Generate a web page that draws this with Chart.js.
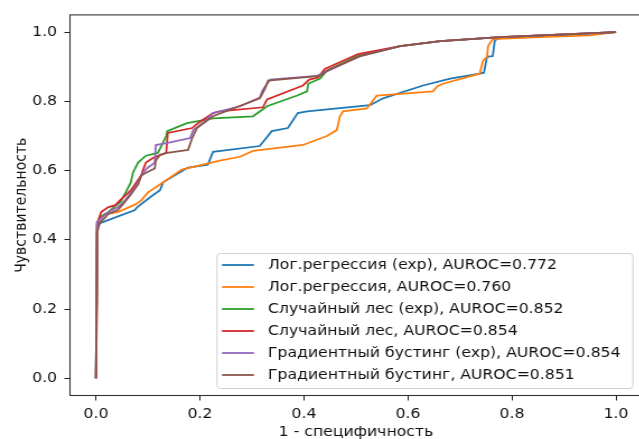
<!DOCTYPE html>
<html>
<head>
<meta charset="utf-8">
<script src="https://cdn.jsdelivr.net/npm/chart.js@4/dist/chart.umd.min.js"></script>
<style>
  html, body { margin: 0; padding: 0; background: #fff; overflow: hidden; }
  #wrap { width: 639px; height: 439px; overflow: hidden; }
  /* картинка-образец растянута по горизонтали, поэтому тянем холст так же */
  #roc { display: block; transform: scaleX(1.1198); transform-origin: 0 0; }
</style>
</head>
<body>
<div id="wrap"><canvas id="roc" width="576" height="439"></canvas></div>
<script>
// ROC-кривые, значения
const seriesNames = [
  "Лог.регрессия (exp), AUROC=0.772",
  "Лог.регрессия, AUROC=0.760",
  "Случайный лес (exp), AUROC=0.852",
  "Случайный лес, AUROC=0.854",
  "Градиентный бустинг (exp), AUROC=0.854",
  "Градиентный бустинг, AUROC=0.851"
];
const seriesColors = ["#1f77b4", "#ff7f0e", "#2ca02c", "#d62728", "#9467bd", "#8c564b"];

const logRegExpFpr = [0, 0.002, 0.004, 0.013, 0.075, 0.079, 0.104, 0.123, 0.129, 0.177, 0.215, 0.225, 0.315, 0.338, 0.369, 0.388, 0.406, 0.527, 0.552, 0.629, 0.681, 0.738, 0.746, 0.752, 0.763, 0.767, 0.777, 0.892, 1];
const logRegExpTpr = [0, 0.394, 0.446, 0.451, 0.486, 0.494, 0.523, 0.543, 0.566, 0.609, 0.617, 0.654, 0.671, 0.714, 0.723, 0.766, 0.771, 0.789, 0.809, 0.846, 0.866, 0.88, 0.883, 0.929, 0.931, 0.977, 0.983, 0.991, 1];

const logRegFpr = [0, 0.002, 0.017, 0.042, 0.077, 0.087, 0.1, 0.123, 0.165, 0.238, 0.277, 0.302, 0.398, 0.444, 0.463, 0.469, 0.475, 0.521, 0.54, 0.598, 0.648, 0.656, 0.667, 0.738, 0.744, 0.752, 0.754, 0.763, 0.854, 0.95, 1];
const logRegTpr = [0, 0.451, 0.474, 0.48, 0.503, 0.514, 0.537, 0.56, 0.603, 0.629, 0.64, 0.657, 0.674, 0.7, 0.717, 0.757, 0.771, 0.78, 0.817, 0.823, 0.829, 0.843, 0.851, 0.88, 0.917, 0.929, 0.96, 0.98, 0.986, 0.991, 1];

const forestExpFpr = [0, 0.002, 0.008, 0.023, 0.048, 0.067, 0.071, 0.081, 0.096, 0.119, 0.135, 0.137, 0.175, 0.225, 0.302, 0.329, 0.387, 0.406, 0.408, 0.431, 0.444, 0.502, 0.585, 0.662, 0.777, 1];
const forestExpTpr = [0, 0.437, 0.466, 0.48, 0.511, 0.566, 0.594, 0.623, 0.643, 0.651, 0.7, 0.714, 0.737, 0.751, 0.757, 0.786, 0.817, 0.829, 0.851, 0.866, 0.889, 0.931, 0.96, 0.974, 0.986, 1];

const forestFpr = [0, 0.002, 0.002, 0.01, 0.023, 0.037, 0.046, 0.067, 0.087, 0.09, 0.096, 0.11, 0.135, 0.138, 0.185, 0.196, 0.225, 0.238, 0.321, 0.329, 0.398, 0.41, 0.427, 0.44, 0.504, 0.585, 0.662, 0.777, 1];
const forestTpr = [0, 0.223, 0.446, 0.48, 0.494, 0.5, 0.514, 0.543, 0.586, 0.6, 0.623, 0.637, 0.651, 0.709, 0.723, 0.737, 0.766, 0.771, 0.783, 0.806, 0.846, 0.863, 0.869, 0.894, 0.937, 0.96, 0.974, 0.986, 1];

const boostExpFpr = [0, 0.002, 0.013, 0.023, 0.042, 0.056, 0.071, 0.081, 0.09, 0.1, 0.113, 0.115, 0.138, 0.181, 0.187, 0.21, 0.225, 0.277, 0.315, 0.321, 0.335, 0.425, 0.45, 0.508, 0.585, 0.662, 0.777, 1];
const boostExpTpr = [0, 0.451, 0.466, 0.48, 0.494, 0.514, 0.543, 0.566, 0.594, 0.609, 0.623, 0.674, 0.68, 0.694, 0.717, 0.743, 0.766, 0.786, 0.811, 0.834, 0.863, 0.874, 0.891, 0.931, 0.96, 0.974, 0.986, 1];

const boostFpr = [0, 0.002, 0.008, 0.017, 0.023, 0.042, 0.052, 0.067, 0.081, 0.087, 0.096, 0.113, 0.115, 0.123, 0.137, 0.177, 0.185, 0.194, 0.225, 0.315, 0.325, 0.331, 0.431, 0.444, 0.508, 0.585, 0.662, 0.777, 1];
const boostTpr = [0, 0.423, 0.451, 0.463, 0.474, 0.486, 0.503, 0.531, 0.56, 0.586, 0.594, 0.606, 0.629, 0.646, 0.651, 0.66, 0.694, 0.723, 0.757, 0.809, 0.837, 0.86, 0.874, 0.889, 0.931, 0.96, 0.974, 0.986, 1];

const tickValues = [0, 0.2, 0.4, 0.6, 0.8, 1.0];

const allFpr = [logRegExpFpr, logRegFpr, forestExpFpr, forestFpr, boostExpFpr, boostFpr];
const allTpr = [logRegExpTpr, logRegTpr, forestExpTpr, forestTpr, boostExpTpr, boostTpr];

const FONT = "'DejaVu Sans', sans-serif";
const TEXT = "#111";

const datasets = seriesNames.map((name, i) => ({
  label: name,
  data: allFpr[i].map((x, k) => ({ x: x, y: allTpr[i][k] })),
  borderColor: seriesColors[i],
  backgroundColor: seriesColors[i],
  borderWidth: 1.8,
  pointRadius: 0,
  tension: 0,
  fill: false,
  order: seriesNames.length - i // последняя кривая сверху
}));

// рамка осей как в matplotlib
const frame = {
  id: "frame",
  afterDatasetsDraw(chart) {
    const a = chart.chartArea;
    const ctx = chart.ctx;
    ctx.save();
    ctx.strokeStyle = "#333";
    ctx.lineWidth = 1.1;
    ctx.strokeRect(a.left, a.top, a.right - a.left, a.bottom - a.top);
    ctx.restore();
  }
};

// легенда внутри поля, справа внизу (координаты холста до растяжения)
const insideLegend = {
  id: "insideLegend",
  afterDraw(chart) {
    const ctx = chart.ctx;
    const box = { left: 193.8, top: 253, right: 565.2, bottom: 388 };
    ctx.save();
    ctx.fillStyle = "rgba(255,255,255,0.8)";
    ctx.strokeStyle = "#d0d0d0";
    ctx.lineWidth = 1;
    ctx.beginPath();
    ctx.roundRect(box.left, box.top + 0.5, box.right - box.left, box.bottom - box.top, 3);
    ctx.fill();
    ctx.stroke();
    ctx.font = "14px " + FONT;
    ctx.textBaseline = "middle";
    seriesNames.forEach((name, i) => {
      const y = 265 + i * 22;
      ctx.strokeStyle = seriesColors[i];
      ctx.lineWidth = 1.8;
      ctx.beginPath();
      ctx.moveTo(198.2, y);
      ctx.lineTo(226.8, y);
      ctx.stroke();
      ctx.fillStyle = TEXT;
      ctx.fillText(name, 239.3, y);
    });
    ctx.restore();
  }
};

new Chart(document.getElementById("roc"), {
  type: "line",
  data: { datasets: datasets },
  options: {
    responsive: false,
    animation: false,
    devicePixelRatio: 1,
    layout: { padding: { top: 10.5, right: 2.7, left: 0, bottom: 0 } },
    plugins: {
      legend: { display: false },
      tooltip: { enabled: false }
    },
    scales: {
      x: {
        type: "linear",
        min: -0.05,
        max: 1.05,
        afterBuildTicks: (s) => { s.ticks = tickValues.map(v => ({ value: v })); },
        afterFit: (s) => { s.height = 43.5; },
        border: { display: false },
        grid: { drawOnChartArea: false, drawTicks: true, tickLength: 5, color: "#222", tickWidth: 1 },
        ticks: { color: TEXT, font: { family: FONT, size: 14 }, padding: 5, maxRotation: 0,
          callback: (v) => Number(v).toFixed(1) },
        title: { display: true, text: "1 - специфичность", color: TEXT,
          font: { family: FONT, size: 14, lineHeight: 1.0 }, padding: { top: 0, bottom: 0 } }
      },
      y: {
        type: "linear",
        min: -0.05,
        max: 1.05,
        afterBuildTicks: (s) => { s.ticks = tickValues.map(v => ({ value: v })); },
        afterFit: (s) => { s.width = 62.5; },
        border: { display: false },
        grid: { drawOnChartArea: false, drawTicks: true, tickLength: 5, color: "#222", tickWidth: 1 },
        ticks: { color: TEXT, font: { family: FONT, size: 14 }, padding: 6.5,
          callback: (v) => Number(v).toFixed(1) },
        title: { display: true, text: "Чувствительность", color: TEXT,
          font: { family: FONT, size: 14 }, padding: { top: 11, bottom: 0 } }
      }
    }
  },
  plugins: [frame, insideLegend]
});
</script>
</body>
</html>
